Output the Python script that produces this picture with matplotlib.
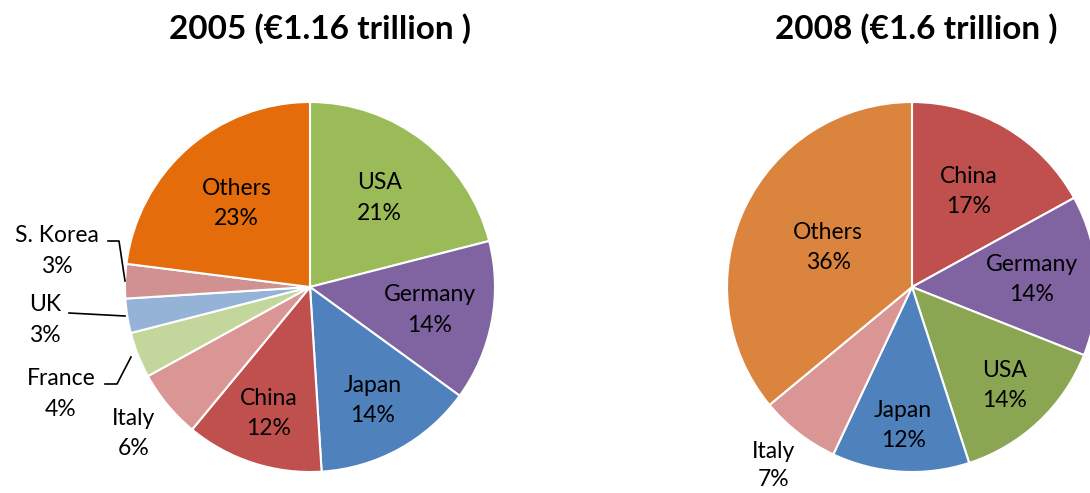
import numpy as np
import matplotlib
matplotlib.use('Agg')
from matplotlib import pyplot as plt

plt.rcParams['font.family'] = ['Lato', 'DejaVu Sans']

# 2005 data (clockwise from top)
labels2005 = ['USA', 'Germany', 'Japan', 'China', 'Italy', 'France', 'UK', 'S. Korea', 'Others']
share2005 = [21, 14, 14, 12, 6, 4, 3, 3, 23]
colors2005 = ['#9BBB59', '#8064A2', '#4F81BD', '#C0504D', '#D99694',
              '#C3D69B', '#95B3D7', '#D09190', '#E46C0A']

# 2008 data
labels2008 = ['China', 'Germany', 'USA', 'Japan', 'Italy', 'Others']
share2008 = [17, 14, 14, 12, 7, 36]
colors2008 = ['#C0504D', '#8064A2', '#8BA652', '#4F81BD', '#D99694', '#DB843D']

W, H = 1090, 493
fig = plt.figure(figsize=(W / 100, H / 100), dpi=100)

R = 185
PAD = 1.03


def make_axes(cx, cy):
    # cx, cy in pixels from top-left
    half = R * PAD
    return fig.add_axes([(cx - half) / W, (H - cy - half) / H, 2 * half / W, 2 * half / H])


def draw_pie(ax, values, colors):
    wedges, _ = ax.pie(values, colors=colors, startangle=90, counterclock=False,
                       wedgeprops=dict(edgecolor='white', linewidth=1.5))
    ax.set_xlim(-PAD, PAD)
    ax.set_ylim(-PAD, PAD)
    ax.set_aspect('equal')
    return wedges


def mid_angle(w):
    return np.deg2rad((w.theta1 + w.theta2) / 2)


fs = 16.5
ls = 1.55

# ---- 2005 ----
ax1 = make_axes(310, 287)
w1 = draw_pie(ax1, share2005, colors2005)
inside1 = {'USA': 0.61, 'Others': 0.6, 'Germany': 0.66, 'Japan': 0.7, 'China': 0.72}
for w, lab, v in zip(w1, labels2005, share2005):
    a = mid_angle(w)
    if lab in inside1:
        d = inside1[lab]
        ax1.text(d * np.cos(a), d * np.sin(a), f'{lab}\n{v}%', ha='center', va='center',
                 fontsize=fs, linespacing=ls)
    elif lab == 'Italy':
        d = 1.24
        ax1.text(d * np.cos(a), d * np.sin(a), f'{lab}\n{v}%', ha='center', va='center',
                 fontsize=fs, linespacing=ls)

# small slices with leader lines (pixel offsets relative to pie centre)
def px(x, y):
    return (x - 310) / R, (287 - y) / R

leaders = {
    'S. Korea': ([(125, 281), (119, 241), (108, 241)], (57, 251)),
    'UK': ([(125, 316), (69, 313)], (45, 320)),
    'France': ([(131, 357), (117, 384), (105, 384)], (61, 394)),
}
for lab, v in zip(labels2005, share2005):
    if lab in leaders:
        pts, tpos = leaders[lab]
        xs, ys = zip(*[px(*p) for p in pts])
        ax1.plot(xs, ys, color='black', lw=1.2, clip_on=False)
        tx, ty = px(*tpos)
        ax1.text(tx, ty, f'{lab}\n{v}%', ha='center', va='center', fontsize=fs,
                 linespacing=ls)

fig.text(320 / W, 1 - 29 / H, '2005 (€1.16 trillion )', ha='center', va='center',
         fontsize=24, fontweight='bold')

# ---- 2008 ----
ax2 = make_axes(912, 287)
w2 = draw_pie(ax2, share2008, colors2008)
dist2 = {'China': 0.6, 'Germany': 0.65, 'USA': 0.73, 'Japan': 0.75, 'Italy': 1.22, 'Others': 0.5}
for w, lab, v in zip(w2, labels2008, share2008):
    a = mid_angle(w)
    d = dist2[lab]
    ax2.text(d * np.cos(a), d * np.sin(a), f'{lab}\n{v}%', ha='center', va='center',
             fontsize=fs, linespacing=1.45 if lab == 'Italy' else ls)

fig.text(916 / W, 1 - 29 / H, '2008 (€1.6 trillion )', ha='center', va='center',
         fontsize=24, fontweight='bold')

fig.savefig('out.png', dpi=100)
